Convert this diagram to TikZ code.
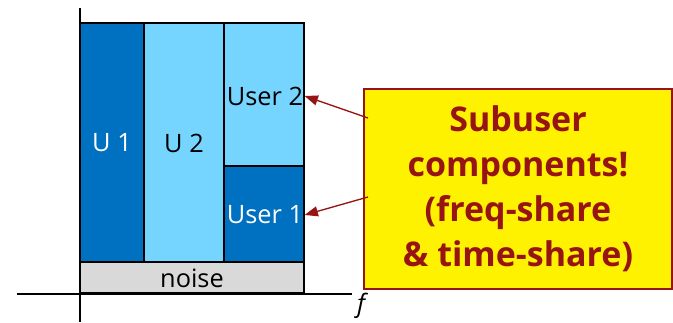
\documentclass[tikz,border=0pt]{standalone}
\usepackage{fontspec}
\setmainfont{Open Sans}
\usetikzlibrary{arrows.meta}

\definecolor{dkblue}{RGB}{0,112,192}
\definecolor{ltblue}{RGB}{117,213,255}
\definecolor{noisegray}{RGB}{217,217,217}
\definecolor{calloutred}{RGB}{150,20,20}

\tikzset{every picture/.style={line width=0.75pt}}
\tikzset{
  band/.style={draw=black, line width=1.5pt},
  bandlbl/.style={inner sep=0.75pt, font=\fontsize{19}{23}\selectfont},
  pointer/.style={color=calloutred, line width=1pt, -{Triangle[length=10pt,width=7.5pt]}}
}

\begin{document}
\begin{tikzpicture}[x=0.75pt,y=0.75pt,yscale=-1,xscale=1]
\useasboundingbox (0,0) rectangle (673,323);

%Shapes: frequency bands
\draw [band, fill=dkblue] (80,23) rectangle (144,262) ;
\draw [band, fill=ltblue] (144,23) rectangle (224,262) ;
\draw [band, fill=ltblue] (224,23) rectangle (304,166) ;
\draw [band, fill=dkblue] (224,166) rectangle (304,262) ;
\draw [band, fill=noisegray] (80,262) rectangle (304,293) ;

%Axes
\draw [line width=1.5pt] (80,8) -- (80,322) ;
\draw [line width=1.5pt] (17,294) -- (352,294) ;

% Text Node
\node [bandlbl, text=white] (u1) at (112,143) {U 1};
% Text Node
\node [bandlbl] (u2) at (184,143) {U 2};
% Text Node
\node [bandlbl] (usr2) at (265,96) {User 2};
% Text Node
\node [bandlbl, text=white] (usr1) at (265,215) {User 1};
% Text Node
\node [bandlbl] (noise) at (192,278) {noise};
% Text Node
\node [inner sep=0.75pt, font=\fontsize{19}{23}\selectfont\itshape] (faxis) at (361,306) {f};

%Callout
\node [draw=calloutred, fill=yellow, line width=1pt, minimum width=231pt, minimum height=150pt, align=center, text=calloutred, font=\fontsize{25.5}{33.75}\selectfont\bfseries] (callout) at (518,189) {Subuser\\components!\\(freq-share\\\& time-share)};

\coordinate (c2) at (368,118) ;
\coordinate (c1) at (368,197) ;
\draw [pointer] (c2) -- (usr2.east) ;
\draw [pointer] (c1) -- (usr1.east) ;

\end{tikzpicture}
\end{document}
